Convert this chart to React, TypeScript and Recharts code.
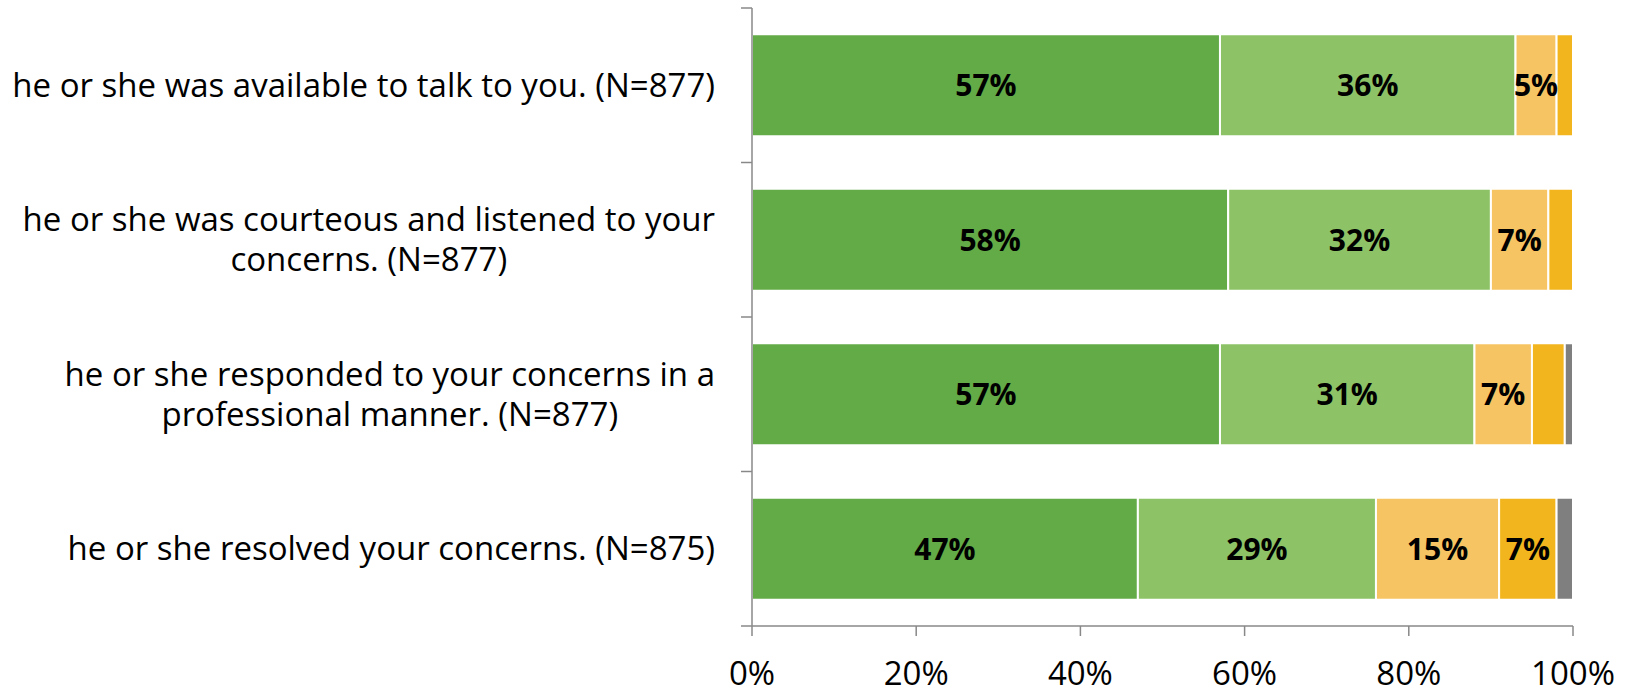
import React from "react";
import { BarChart, Bar, XAxis, YAxis, LabelList } from "recharts";

const categories = [
  "he or she was available to talk to you. (N=877)",
  "he or she was courteous and listened to your concerns. (N=877)",
  "he or she responded to your concerns in a professional manner. (N=877)",
  "he or she resolved your concerns. (N=875)",
];
const categoryLines = [
  ["he or she was available to talk to you. (N=877)"],
  ["he or she was courteous and listened to your", "concerns. (N=877)"],
  ["he or she responded to your concerns in a", "professional manner. (N=877)"],
  ["he or she resolved your concerns. (N=875)"],
];
const seriesA = [57, 58, 57, 47];
const seriesB = [36, 32, 31, 29];
const seriesC = [5, 7, 7, 15];
const seriesD = [2, 3, 4, 7];
const seriesE = [0, 0, 1, 2];
const xTicks = [0, 20, 40, 60, 80, 100];

const colors = ["#62AB47", "#8DC366", "#F7C463", "#F2B51E", "#7F7F7F"];
const keys = ["a", "b", "c", "d", "e"];

const data = categories.map((name, i) => ({
  name,
  idx: i,
  a: seriesA[i],
  b: seriesB[i],
  c: seriesC[i],
  d: seriesD[i],
  e: seriesE[i],
}));

const FONT = "'Open Sans', sans-serif";
const CAT_SIZE = 33;
const AXIS_COLOR = "#888888";

let ctx: CanvasRenderingContext2D | null = null;
function measure(text: string): number {
  if (!ctx) {
    const c = document.createElement("canvas");
    ctx = c.getContext("2d");
  }
  if (!ctx) return text.length * CAT_SIZE * 0.5;
  ctx.font = `${CAT_SIZE}px 'Open Sans'`;
  return ctx.measureText(text).width;
}

const CategoryTick = (props: any) => {
  const { x, y, payload, index } = props;
  const lines = categoryLines[index] || [String(payload.value)];
  const half = payload.offset || 0;
  const right = x - 37;
  const maxW = Math.max(...lines.map((l: string) => measure(l)));
  const cx = right - maxW / 2;
  const lh = 40;
  const start = y - ((lines.length - 1) * lh) / 2 + 11.5;
  return (
    <g>
      <line x1={x - 11} x2={x} y1={y - half} y2={y - half} stroke={AXIS_COLOR} strokeWidth={1.5} />
      {index === categories.length - 1 && (
        <line x1={x - 11} x2={x} y1={y + half} y2={y + half} stroke={AXIS_COLOR} strokeWidth={1.5} />
      )}
      {lines.map((l: string, i: number) => (
        <text
          key={i}
          x={cx}
          y={start + i * lh}
          textAnchor="middle"
          fontFamily={FONT}
          fontSize={CAT_SIZE}
          fill="#000"
        >
          {l}
        </text>
      ))}
    </g>
  );
};

const renderLabel = (props: any) => {
  const { x, y, width, height, value } = props;
  if (value == null || value < 5) return null;
  return (
    <text
      x={x + width / 2}
      y={y + height / 2}
      dy="0.36em"
      textAnchor="middle"
      fontFamily={FONT}
      fontWeight="bold"
      fontSize={30}
      fill="#000"
    >
      {`${value}%`}
    </text>
  );
};

export default function App() {
  return (
    <div style={{ position: "absolute", left: 0, top: 0, width: 1642, height: 689, background: "#fff" }}>
      <BarChart
        width={1642}
        height={689}
        data={data}
        layout="vertical"
        margin={{ top: 8, right: 69, bottom: 0, left: 0 }}
        barCategoryGap="17%"
      >
        <XAxis
          type="number"
          domain={[0, 100]}
          ticks={xTicks}
          tickFormatter={(v: number) => `${v}%`}
          height={63}
          tickSize={10}
          tickMargin={26}
          axisLine={{ stroke: AXIS_COLOR, strokeWidth: 1.5 }}
          tickLine={{ stroke: AXIS_COLOR, strokeWidth: 1.5 }}
          tick={{ fontFamily: FONT, fontSize: 33, fill: "#000" }}
          interval={0}
        />
        <YAxis
          type="category"
          dataKey="name"
          width={752}
          tickSize={0}
          tickMargin={0}
          tickLine={false}
          axisLine={{ stroke: AXIS_COLOR, strokeWidth: 1.5 }}
          tick={<CategoryTick />}
          interval={0}
        />
        {keys.map((k, i) => (
          <Bar
            key={k}
            dataKey={k}
            stackId="s"
            fill={colors[i]}
            stroke="#fff"
            strokeWidth={2}
            isAnimationActive={false}
          >
            <LabelList dataKey={k} content={renderLabel} />
          </Bar>
        ))}
      </BarChart>
    </div>
  );
}
